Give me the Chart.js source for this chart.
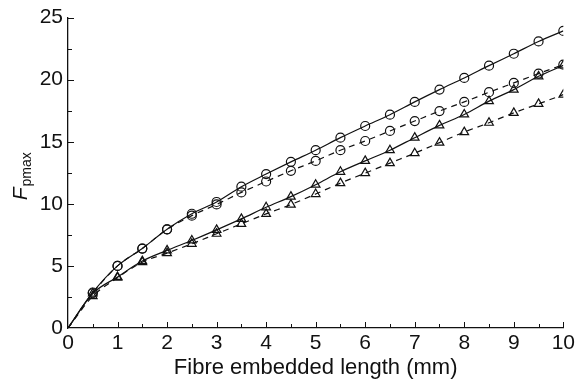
<!DOCTYPE html>
<html>
<head>
<meta charset="utf-8">
<script src="https://cdn.jsdelivr.net/npm/chart.js@4/dist/chart.umd.min.js"></script>
<style>
  html, body { margin: 0; padding: 0; background: #fff; }
  #wrap { width: 578px; height: 385px; }
</style>
</head>
<body>
<div id="wrap"><canvas id="c"></canvas></div>
<script>
// embedded length (mm)
var lengths = [0, 0.5, 1, 1.5, 2, 2.5, 3, 3.5, 4, 4.5, 5, 5.5, 6, 6.5, 7, 7.5, 8, 8.5, 9, 9.5, 10];
var circleSolid  = [0, 2.86, 5.0, 6.4, 7.95, 9.2, 10.15, 11.38, 12.4, 13.38, 14.32, 15.33, 16.27, 17.18, 18.21, 19.2, 20.14, 21.13, 22.09, 23.08, 23.93];
var circleDashed = [0, 2.8, 5.0, 6.4, 7.95, 9.05, 9.95, 10.92, 11.8, 12.66, 13.46, 14.32, 15.06, 15.87, 16.67, 17.47, 18.21, 18.99, 19.74, 20.49, 21.21];
var triSolid     = [0, 2.78, 4.11, 5.39, 6.25, 7.05, 7.9, 8.79, 9.72, 10.58, 11.54, 12.58, 13.46, 14.32, 15.33, 16.32, 17.2, 18.27, 19.2, 20.27, 21.15];
var triDashed    = [0, 2.56, 4.05, 5.3, 6.03, 6.78, 7.59, 8.39, 9.19, 9.94, 10.79, 11.67, 12.47, 13.28, 14.08, 14.93, 15.78, 16.53, 17.33, 18.05, 18.8];
var xTicks = [0, 1, 2, 3, 4, 5, 6, 7, 8, 9, 10];
var yTicks = [0, 5, 10, 15, 20, 25];

var ink = '#111';
var fontFam = '"Liberation Sans", Arial, sans-serif';

function pts(vals){
  return lengths.map(function(x, i){ return {x: x, y: vals[i]}; });
}
function radii(r){
  return lengths.map(function(x){ return x === 0 ? 0 : r; });
}
function series(vals, style, dashed){
  return {
    data: pts(vals),
    borderColor: ink,
    borderWidth: 1.2,
    borderDash: dashed ? [6, 5] : [],
    backgroundColor: 'rgba(255,255,255,0)',
    pointStyle: style,
    pointRadius: radii(style === 'circle' ? 4.5 : 5),
    pointBorderColor: ink,
    pointBorderWidth: 1.2,
    pointBackgroundColor: 'rgba(255,255,255,0)',
    cubicInterpolationMode: 'monotone',
    fill: false
  };
}

// inward minor/major ticks + y title with subscript
var extras = {
  id: 'extras',
  afterDraw: function(chart){
    var ctx = chart.ctx, xs = chart.scales.x, ys = chart.scales.y;
    var a = chart.chartArea;
    ctx.save();
    ctx.strokeStyle = ink;
    ctx.lineWidth = 1;
    for (var v = 0.5; v <= 10; v += 0.5) {
      var px = Math.round(xs.getPixelForValue(v)) + 0.5;
      var len = (v % 1 === 0) ? 6 : 4;
      ctx.beginPath(); ctx.moveTo(px, a.bottom); ctx.lineTo(px, a.bottom - len); ctx.stroke();
    }
    for (var w = 2.5; w <= 25; w += 2.5) {
      var py = Math.round(ys.getPixelForValue(w)) + 0.5;
      var l2 = (w % 5 === 0) ? 6 : 4;
      ctx.beginPath(); ctx.moveTo(a.left, py); ctx.lineTo(a.left + l2, py); ctx.stroke();
    }
    // y axis title
    ctx.translate(27, (a.top + a.bottom) / 2 + 4);
    ctx.rotate(-Math.PI / 2);
    ctx.fillStyle = ink;
    ctx.textBaseline = 'alphabetic';
    ctx.font = 'italic 21px ' + fontFam;
    var fw = ctx.measureText('F').width;
    ctx.font = '14px ' + fontFam;
    var sw = ctx.measureText('pmax').width;
    var start = -(fw + sw) / 2;
    ctx.font = 'italic 21px ' + fontFam;
    ctx.fillText('F', start, 0);
    ctx.font = '14px ' + fontFam;
    ctx.fillText('pmax', start + fw + 1, 4);
    ctx.restore();
  }
};

new Chart(document.getElementById('c'), {
  type: 'line',
  data: {
    datasets: [
      series(circleSolid, 'circle', false),
      series(circleDashed, 'circle', true),
      series(triSolid, 'triangle', false),
      series(triDashed, 'triangle', true)
    ]
  },
  options: {
    responsive: true,
    maintainAspectRatio: false,
    animation: false,
    layout: { padding: { top: 16, right: 12, left: 0, bottom: 0 } },
    plugins: { legend: { display: false }, tooltip: { enabled: false } },
    scales: {
      x: {
        type: 'linear',
        min: 0, max: 10,
        afterBuildTicks: function(s){ s.ticks = xTicks.map(function(v){ return {value: v}; }); },
        afterFit: function(s){ s.height = 57; },
        grid: { display: true, drawOnChartArea: false, drawTicks: false },
        border: { display: true, color: ink, width: 1.3 },
        ticks: { color: ink, padding: 3, font: { size: 21, family: fontFam }, maxRotation: 0 },
        title: { display: true, text: 'Fibre embedded length (mm)', color: ink, padding: { top: 0 }, font: { size: 22, family: fontFam } }
      },
      y: {
        type: 'linear',
        min: 0, max: 25,
        afterBuildTicks: function(s){ s.ticks = yTicks.map(function(v){ return {value: v}; }); },
        afterFit: function(s){ s.width = 68; },
        grid: { display: true, drawOnChartArea: false, drawTicks: false },
        border: { display: true, color: ink, width: 1.3 },
        ticks: { color: ink, padding: 5, font: { size: 21, family: fontFam } }
      }
    }
  },
  plugins: [extras]
});
</script>
</body>
</html>
